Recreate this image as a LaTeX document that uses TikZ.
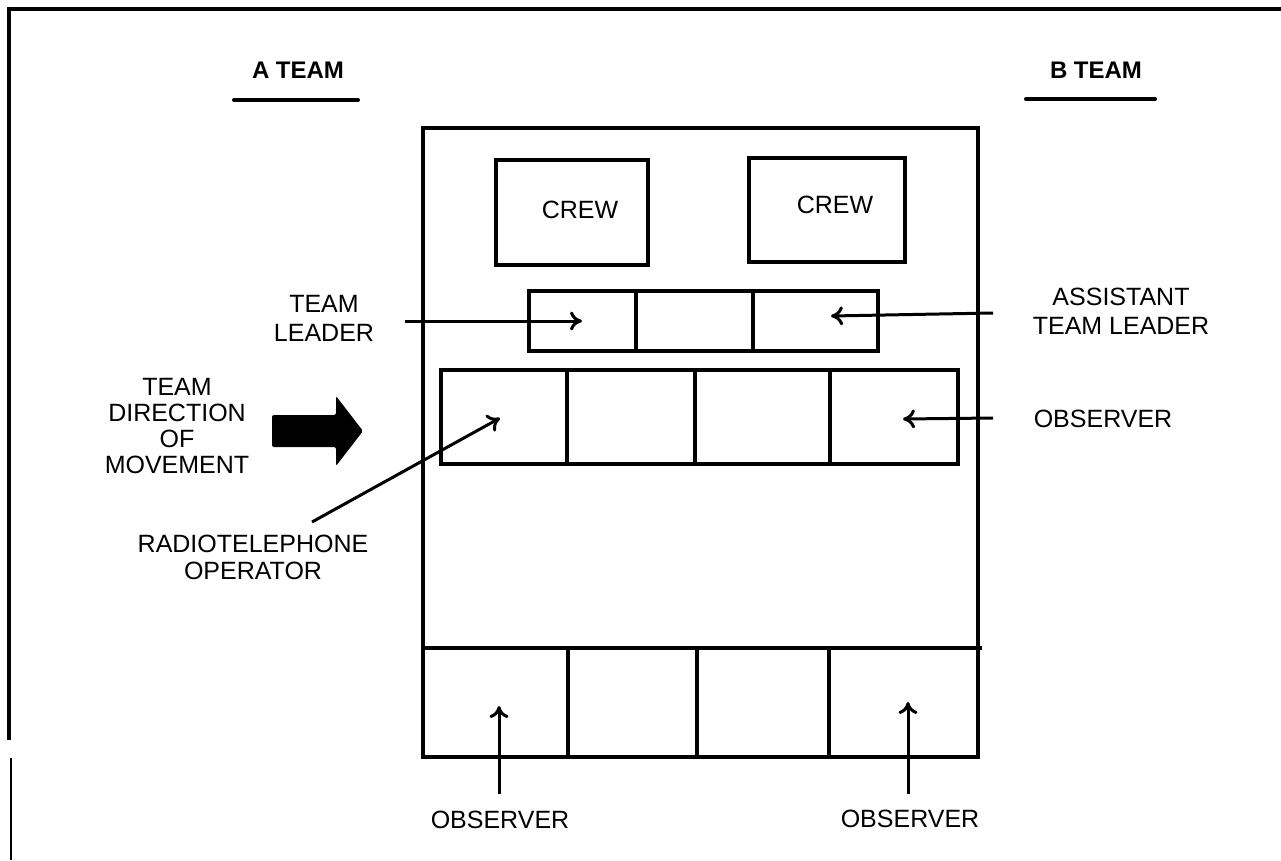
\documentclass[tikz,border=0pt]{standalone}
\usepackage{fontspec}
\setmainfont{Liberation Sans}
\usetikzlibrary{arrows.meta}
\begin{document}
\begin{tikzpicture}[x=1pt,y=-1pt,
  lbl/.style={font=\fontsize{25}{29}\selectfont, align=center, inner sep=0pt},
  ttl/.style={font=\fontsize{24}{28}\selectfont\bfseries, inner sep=0pt},
  frame/.style={line width=4.5pt},
  cell/.style={line width=3.2pt},
  uline/.style={line width=4pt, line cap=round},
  ptr/.style={line width=3pt, -{To[length=12pt,width=19pt]}},
]
\useasboundingbox (0,0) rectangle (1281,860);
% page border
\draw[line width=3.5pt] (7,9) -- (1281,9);
\draw[line width=4pt] (9,7) -- (9,740);
\draw[line width=2.5pt] (11,758) -- (11,860);

% team titles
\node[ttl] (ateam) at (298,70) {A TEAM};
\node[ttl] (bteam) at (1096,70) {B TEAM};
\coordinate (auL) at (234,100); \coordinate (auR) at (358,100);
\coordinate (buL) at (1026,99); \coordinate (buR) at (1155,99);
\draw[uline] (auL) -- (auR);
\draw[uline] (buL) -- (buR);

% vehicle outline
\draw[frame] (423,128) rectangle (978,757);
\draw[frame] (423,648) -- (982,648);
\foreach \x in {568,697,829} \draw[cell] (\x,648) -- (\x,757);

% crew boxes
\draw[cell] (496,160) rectangle (648,265);
\draw[cell] (749,158) rectangle (905,262);
\node[lbl] (crew1) at (580,210) {CREW};
\node[lbl] (crew2) at (835,205) {CREW};

% leader row
\draw[cell] (529,291) rectangle (878,351);
\foreach \x in {636,753} \draw[cell] (\x,291) -- (\x,351);

% observer row
\draw[cell] (441,370) rectangle (958,464);
\foreach \x in {567,695,830} \draw[cell] (\x,370) -- (\x,464);

% direction arrow
\fill[rounded corners=2pt] (272,415) -- (336,415) -- (336,396) -- (363,431) -- (336,466) -- (336,447) -- (272,447) -- cycle;

% labels
\node[lbl] (tl) at (324,318.5) {TEAM\\LEADER};
\node[lbl] (atl) at (1121,311.5) {ASSISTANT\\TEAM LEADER};
\node[lbl] (obsR) at (1103,419) {OBSERVER};
\node[lbl, font=\fontsize{25}{26}\selectfont] (dir) at (177,426.5) {TEAM\\DIRECTION\\OF\\MOVEMENT};
\node[lbl, font=\fontsize{25}{27}\selectfont] (rto) at (253,557.5) {RADIOTELEPHONE\\OPERATOR};
\node[lbl] (obsBL) at (500,820) {OBSERVER};
\node[lbl] (obsBR) at (910,819) {OBSERVER};

% pointers
\coordinate (tlS) at (405,321); \coordinate (tlT) at (582,321);
\coordinate (atlS) at (993,313); \coordinate (atlT) at (831,316);
\coordinate (obsS) at (993,418); \coordinate (obsT) at (903,419);
\coordinate (rtoS) at (312,522); \coordinate (rtoT) at (500,418);
\coordinate (blS) at (499,794); \coordinate (blT) at (499,706);
\coordinate (brS) at (908,794); \coordinate (brT) at (908,702);
\draw[ptr] (tlS) -- (tlT);
\draw[ptr] (atlS) -- (atlT);
\draw[ptr] (obsS) -- (obsT);
\draw[ptr] (rtoS) -- (rtoT);
\draw[ptr] (blS) -- (blT);
\draw[ptr] (brS) -- (brT);
\end{tikzpicture}
\end{document}
